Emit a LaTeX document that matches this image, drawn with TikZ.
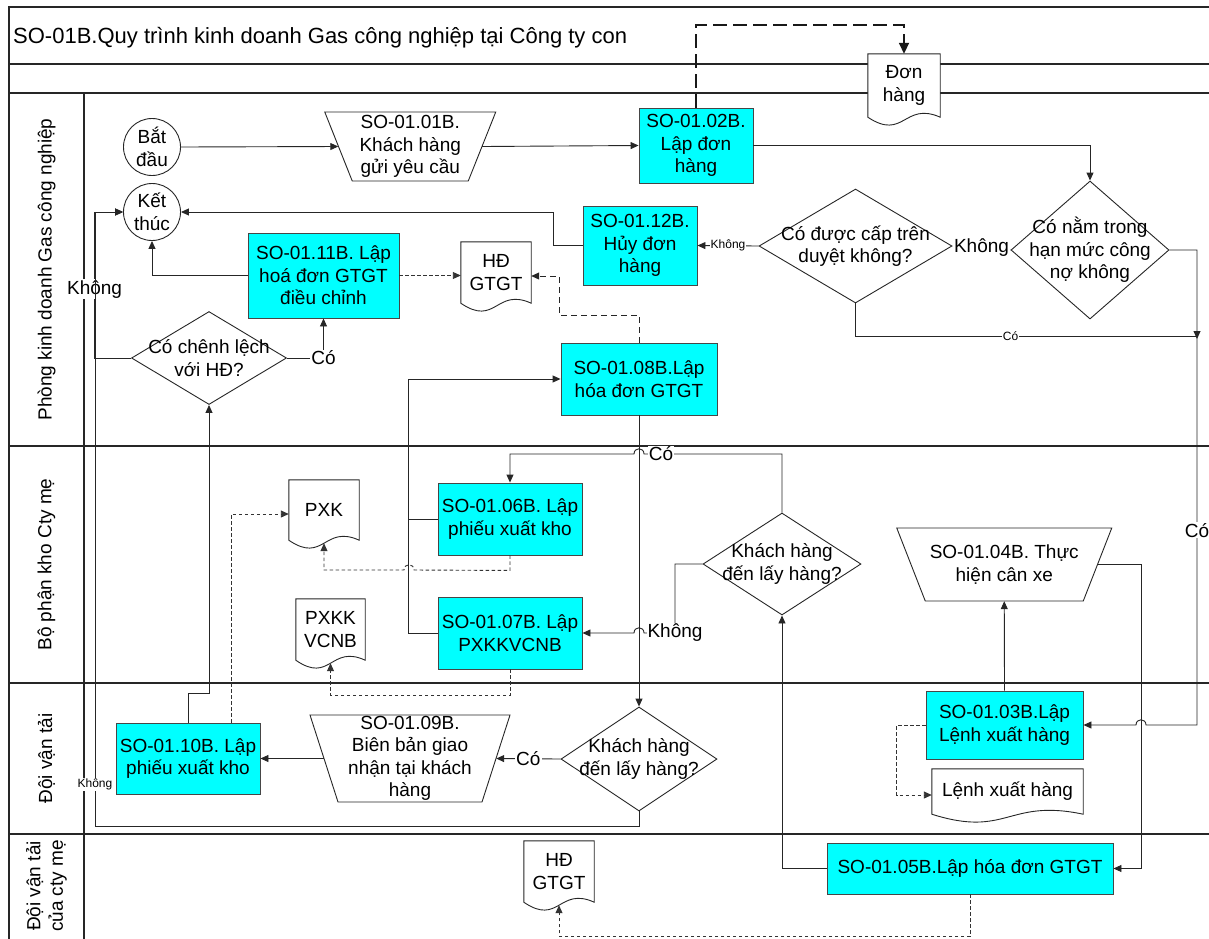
\documentclass[tikz,border=0pt]{standalone}
\usepackage{fontspec}
\setmainfont{Liberation Sans}
\usetikzlibrary{arrows.meta,shapes.geometric,calc}
\pgfdeclarelayer{bg}
\pgfsetlayers{bg,main}

\definecolor{taskcyan}{RGB}{0,255,255}
\definecolor{taskedge}{RGB}{70,70,70}

\newcommand\fcBody{\fontsize{19}{22.5}\selectfont}
\newcommand\fcSmall{\fontsize{12}{14}\selectfont}
\newcommand\fcTitle{\fontsize{22}{26}\selectfont}

\tikzset{
  lane/.style={draw=black!85, line width=1.3pt},
  lanetitle/.style={rotate=90, align=center, font=\fcBody, inner sep=0pt},
  task/.style={rectangle, draw=taskedge, fill=taskcyan, line width=0.9pt, inner sep=0pt, align=center, font=\fcBody},
  term/.style={circle, draw=black!85, fill=white, line width=0.9pt, minimum size=57pt, inner sep=0pt, align=center, font=\fcBody},
  decision/.style={diamond, draw=black!85, fill=white, line width=0.9pt, inner sep=0pt},
  dtext/.style={align=center, font=\fcBody, inner sep=0pt},
  iobox/.style={rectangle, inner sep=0pt, align=center, font=\fcBody},
  ioline/.style={draw=black!85, fill=white, line width=0.9pt},
  docnode/.style={rectangle, inner sep=0pt, align=center, font=\fcBody},
  docline/.style={draw=black!85, fill=white, line width=0.9pt},
  tip/.style={-{Triangle[length=8pt,width=7pt]}},
  flow/.style={draw=black!85, line width=0.9pt, tip},
  flowplain/.style={draw=black!85, line width=0.9pt},
  dotflow/.style={draw=black!80, line width=0.9pt, dash pattern=on 3.5pt off 2.5pt, tip},
  dashflow/.style={draw=black!85, line width=0.9pt, dash pattern=on 6pt off 4pt, tip},
  bigdash/.style={draw=black!90, line width=1.8pt, dash pattern=on 14pt off 6pt, -{Triangle[length=11pt,width=10pt]}},
  lbl/.style={fill=white, font=\fcBody, inner sep=1pt},
  slbl/.style={fill=white, font=\fcSmall, inner sep=1pt}
}

% document symbol: flat top, wavy bottom; #1w marks the middle of the wave
\newcommand\docoutline[1]{%
  \draw[docline] (#1.north west) -- (#1.north east) -- (#1.south east)
    .. controls ($(#1.south)+(0,16)$) and ($(#1.south)+(0,-24)$) .. (#1.south west) -- cycle;
  \coordinate (#1w) at ($(#1.south)+(0,-3)$);
}
% manual operation: wide top, narrow bottom (name, half mid width, half height, slant)
\newcommand\iooutline[4]{%
  \draw[ioline] ($(#1)+(-#2-#4,#3)$) -- ($(#1)+(#2+#4,#3)$)
    -- ($(#1)+(#2-#4,-#3)$) -- ($(#1)+(-#2+#4,-#3)$) -- cycle;
}

\begin{document}
\begin{tikzpicture}[x=1pt,y=1pt]
\useasboundingbox (0,0) rectangle (1209,-938);

% pool frame and lanes
\begin{pgfonlayer}{bg}
  \draw[lane] (9,-942) -- (9,-7) -- (1212,-7);
  \draw[lane] (9,-64) -- (1212,-64);
  \draw[lane] (9,-93) -- (1212,-93);
  \draw[lane] (9,-446) -- (1212,-446);
  \draw[lane] (9,-683) -- (1212,-683);
  \draw[lane] (9,-834) -- (1212,-834);
  \draw[lane] (84,-93) -- (84,-942);
\end{pgfonlayer}

\node[anchor=base west, font=\fcTitle, inner sep=0pt] (title) at (13,-43.5)
  {SO-01B.Quy trình kinh doanh Gas công nghiệp tại Công ty con};

\node[lanetitle] (laneA) at (46.5,-269.5) {Phòng kinh doanh Gas công nghiệp};
\node[lanetitle] (laneB) at (46.5,-564.5) {Bộ phận kho Cty mẹ};
\node[lanetitle] (laneC) at (46.5,-758.5) {Đội vận tải};
\node[lanetitle] (laneD) at (46.5,-886) {Đội vận tải\\của cty mẹ};

% steps
\node[term] (start)  at (152,-147) {Bắt\\đầu};
\node[term] (finish) at (152,-212) {Kết\\thúc};

\node[iobox, minimum width=143.5pt, minimum height=69pt] (t01) at (410.25,-146.5)
  {SO-01.01B.\\Khách hàng\\gửi yêu cầu};
\node[task, minimum width=114pt, minimum height=75pt] (b02) at (696,-145.5) {SO-01.02B.\\Lập đơn\\hàng};
\node[docnode, minimum width=72pt, minimum height=63pt] (dDon) at (904,-85.5) {Đơn\\hàng};

\node[decision, minimum width=158pt, minimum height=138pt,
  label={[dtext]center:Có nằm trong\\hạn mức công\\nợ không}] (d1) at (1090,-250) {};
\node[decision, minimum width=193pt, minimum height=114pt,
  label={[dtext]center:Có được cấp trên\\duyệt không?}] (d2) at (855.5,-246) {};
\node[task, minimum width=114pt, minimum height=79pt] (b12) at (640,-245.5) {SO-01.12B.\\Hủy đơn\\hàng};
\node[task, minimum width=151pt, minimum height=85pt] (b11) at (323.5,-275.5) {SO-01.11B. Lập\\hoá đơn GTGT\\điều chỉnh};
\node[docnode, minimum width=70pt, minimum height=61pt] (dHD1) at (496,-272.5) {HĐ\\GTGT};
\node[decision, minimum width=155pt, minimum height=93pt,
  label={[dtext]center:Có chênh lệch\\với HĐ?}] (d3) at (209,-358) {};
\node[task, minimum width=156pt, minimum height=72pt] (b08) at (639,-379) {SO-01.08B.Lập\\hóa đơn GTGT};

\node[docnode, minimum width=70pt, minimum height=60pt] (dPXK) at (324,-510) {PXK};
\node[task, minimum width=144pt, minimum height=72pt] (b06) at (510,-519) {SO-01.06B. Lập\\phiếu xuất kho};
\node[decision, minimum width=158pt, minimum height=102pt,
  label={[dtext]center:Khách hàng\\đến lấy hàng?}] (d4) at (782,-564) {};
\node[iobox, minimum width=186.5pt, minimum height=73pt] (t04) at (1004.25,-564.5) {SO-01.04B. Thực\\hiện cân xe};
\node[docnode, minimum width=69pt, minimum height=61pt] (dPXKK) at (330.5,-629.5) {PXKK\\VCNB};
\node[task, minimum width=144pt, minimum height=72pt] (b07) at (510,-633) {SO-01.07B. Lập\\PXKKVCNB};

\node[task, minimum width=157pt, minimum height=68pt] (b03) at (1004.5,-725) {SO-01.03B.Lập\\Lệnh xuất hàng};
\node[docnode, minimum width=151pt, minimum height=45pt] (dLenh) at (1007.5,-791.5) {Lệnh xuất hàng};
\node[task, minimum width=144pt, minimum height=71pt] (b10) at (188,-758.5) {SO-01.10B. Lập\\phiếu xuất kho};
\node[iobox, minimum width=172pt, minimum height=87pt] (t09) at (410,-758.5)
  {SO-01.09B.\\Biên bản giao\\nhận tại khách\\hàng};
\node[decision, minimum width=156pt, minimum height=104pt,
  label={[dtext]center:Khách hàng\\đến lấy hàng?}] (d5) at (639,-759) {};

\node[task, minimum width=286pt, minimum height=51pt] (b05) at (970,-868.5) {SO-01.05B.Lập hóa đơn GTGT};
\node[docnode, minimum width=70pt, minimum height=61pt] (dHD2) at (559,-871.5) {HĐ\\GTGT};

% outlines of documents and manual operations
\begin{pgfonlayer}{bg}
  \docoutline{dDon}
  \docoutline{dHD1}
  \docoutline{dPXK}
  \docoutline{dPXKK}
  \docoutline{dLenh}
  \docoutline{dHD2}
  \iooutline{t01}{71.75}{34.5}{13.75}
  \iooutline{t04}{93.25}{36.5}{14.25}
  \iooutline{t09}{86}{43.5}{14}
\end{pgfonlayer}

% connectors
\draw[flow] (start.east) -- (t01.west);
\draw[flow] (t01.east) -- (b02.west);
\draw[bigdash] (b02.north) -- (696,-25) -| (dDon.north);
\draw[flow] (b02.east) -| (d1.north);
\draw[flow] (d1.west) -- node[lbl] (lbA) {Không} (d2.east);
\draw[flow] (d2.west) -- node[slbl] (lbB) {Không} (b12.east);
\draw[flow] (b12.west) -- ++(-29,0) |- (finish.east);
\draw[flow] (b11.west) -| (finish.south);
\draw[dotflow] (b11.east) -- (b11.east -| dHD1.west);
\draw[dashflow] (b08.north) |- (559,-315) |- ($(dHD1.east)+(0,-3.5)$);
\draw[flow] (d3.east) -| node[lbl] (lbC) {Có} (b11.south);
\draw[flow] (d3.west) -- ++(-36.5,0) |- node[lbl, pos=0.236] (lbD) {Không} (finish.west);
\draw[flow] (d5.south) -- ++(0,-15) -| node[slbl, pos=0.534] (lbE) {Không} (95,-212) -- (finish.west);
\draw[flow] (b10.north) -- ++(0,29) -| (d3.south);
\draw[dotflow] ($(b10.north east)+(-29,0)$) |- ($(dPXK.west)+(0,-4)$);
\draw[flow] (t09.west) -- (b10.east);
\draw[flow] (d5.west) -- node[lbl] (lbF) {Có} (t09.east);
\draw[flow] (b08.south) -- (d5.north);
\draw[flow] (d4.north) |- node[lbl, pos=0.938] (lbG) {Có} (644,-454)
  .. controls (644,-447) and (634,-447) .. (634,-454) -| (b06.north);
\draw[flow] (d4.west) -| (675,-633) node[lbl] (lbH) {Không} -- (644,-633)
  .. controls (644,-626) and (634,-626) .. (634,-633) -- (b07.east);
\draw[flow] (b06.west) -- ++(-29,0) |- (b08.west);
\draw[flowplain] (b07.west) -| ($(b06.west)+(-29,0)$);
\draw[dotflow] (b06.south) -- ++(0,-15) -- (414,-570)
  .. controls (414,-563) and (404,-563) .. (404,-570) -| (dPXKw);
\draw[dotflow] (b07.south) -- ++(0,-26) -| (dPXKKw);
\draw[flow] (b05.west) -| (d4.south);
\draw[flow] (t04.east) -- ++(43.5,0) |- (b05.east);
\draw[flow] (b03.north) -- (t04.south);
\draw[flow] (d1.east) -- (1197,-250) -- node[lbl, pos=0.59] (lbI) {Có} (1197,-725) -- (1146,-725)
  .. controls (1146,-718) and (1136,-718) .. (1136,-725) -- (b03.east);
\draw[flow] (d2.south) |- node[slbl, pos=0.727] (lbJ) {Có} (1197,-336) -- (1197,-339);
\draw[dotflow] (b03.west) -- ++(-29,0) |- ($(dLenh.west)+(0,-3.5)$);
\draw[dotflow] (b05.south) -- ++(0,-42) -| (dHD2w);
\end{tikzpicture}
\end{document}
